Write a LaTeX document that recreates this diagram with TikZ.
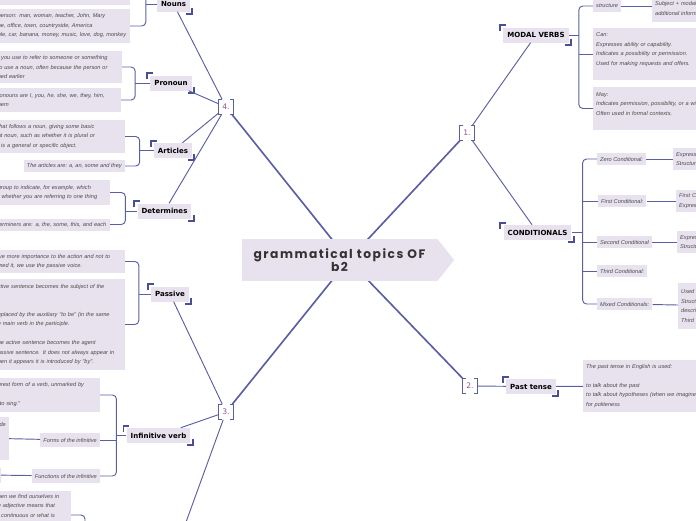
\documentclass[tikz,border=0pt]{standalone}
\usepackage{fontspec}
\setmainfont{Liberation Sans}
\newfontfamily\leafface{Liberation Sans}
\newfontfamily\topicface{DejaVu Sans}
\newfontfamily\hubface{Poppins}[LetterSpace=12]
\usepackage{tikz}
\usetikzlibrary{backgrounds}
\definecolor{GramLine}{HTML}{5B5EA3}
\definecolor{GramCorner}{HTML}{4A4E98}
\definecolor{GramFill}{HTML}{E8E2EE}
\definecolor{GramNum}{HTML}{9A4C9E}
\definecolor{GramInk}{HTML}{4A4A4A}
\newlength\pxl
\setlength\pxl{0.03cm}
\tikzset{
  hub/.style={fill=GramFill, text=black!80, align=center, inner sep=0pt,
    minimum width=195\pxl, minimum height=42\pxl,
    font=\hubface\bfseries\fontsize{10.5}{11}\selectfont},
  topic/.style={fill=GramFill, text=black, inner xsep=4\pxl, inner ysep=0pt,
    minimum height=15\pxl, font=\topicface\bfseries\fontsize{6}{7}\selectfont},
  leaf/.style={fill=GramFill, text=GramInk, align=left, inner xsep=3\pxl,
    inner ysep=3\pxl, font=\leafface\itshape\fontsize{4.8}{8.1}\selectfont},
  numtag/.style={text=GramNum, minimum width=14\pxl, minimum height=15\pxl,
    inner sep=0pt, font=\topicface\fontsize{6.5}{7}\selectfont},
  link/.style={draw=GramLine, line width=0.8pt},
  hublink/.style={draw=GramLine, line width=1.4pt},
  twig/.style={link, rounded corners=4\pxl},
  cornermark/.style={draw=GramCorner, line width=1.6pt},
  tagmark/.style={draw=GramLine, line width=1pt}
}

\begin{document}
\begin{tikzpicture}[x=0.03cm, y=-0.03cm]
  \useasboundingbox (0,0) rectangle (696,520);
  \clip (0,0) rectangle (696,520);

  \node[hub] (hub) at (339.5,260) {grammatical topics OF\\b2};
  \fill[GramFill] (hub.north east) -- ([xshift=17\pxl]hub.east) -- (hub.south east) -- cycle;

  \node[numtag] (n4) at (226,107) {4.};
  \node[numtag] (n1) at (467,133) {1.};
  \node[numtag] (n3) at (226,412) {3.};
  \node[numtag] (n2) at (470,386) {2.};
  \foreach \tg in {n1,n2,n3,n4} {
    \draw[tagmark] ([xshift=3\pxl]\tg.north west) -- (\tg.north west) -- (\tg.south west) -- ([xshift=3\pxl]\tg.south west);
    \draw[tagmark] ([xshift=-3\pxl]\tg.north east) -- (\tg.north east) -- (\tg.south east) -- ([xshift=-3\pxl]\tg.south east);
  }

  \node[topic] (nouns) at (173.5,4) {Nouns};
  \node[topic] (pronoun) at (171,83) {Pronoun};
  \node[topic] (articles) at (173,150.5) {Articles};
  \node[topic] (determines) at (164.5,211) {Determines};
  \node[topic] (passive) at (170,294) {Passive};
  \node[topic] (infinitive) at (158.5,435.5) {Infinitive verb};
  \node[topic] (modal) at (536,35) {MODAL VERBS};
  \node[topic] (conditionals) at (537.5,232.5) {CONDITIONALS};
  \node[topic] (pasttense) at (531,386.5) {Past tense};
  \foreach \tp in {nouns,pronoun,articles,determines,passive,infinitive,modal,conditionals,pasttense} {
    \draw[cornermark] ([shift={(-3,4)}]\tp.north west) -- ++(0,-6) -- ++(6,0);
    \draw[cornermark] ([shift={(2,-4)}]\tp.south east) -- ++(0,6) -- ++(-6,0);
  }

  % left leaves
  \node[leaf, anchor=east, text width=129\pxl, minimum height=34\pxl] (nounA) at (130,-12) {};
  \node[leaf, anchor=east, text width=129\pxl, minimum height=34\pxl] (nounB) at (130,26)
    {person: man, woman, teacher, John, Mary\\ne, office, town, countryside, America\\ble, car, banana, money, music, love, dog, monkey};
  \node[leaf, anchor=east, text width=121\pxl, minimum height=32\pxl] (pro1) at (122,67)
    {t you use to refer to someone or something\\to use a noun, often because the person or\\ned earlier};
  \node[leaf, anchor=east, text width=120\pxl, minimum height=24\pxl] (pro2) at (121,100)
    {ronouns are I, you, he, she, we, they, him,\\hem};
  \node[leaf, anchor=east, text width=124\pxl, minimum height=33\pxl] (art1) at (125,136.5)
    {that follows a noun, giving some basic\\at noun, such as whether it is plural or\\t is a general or specific object.};
  \node[leaf, anchor=east, minimum height=12\pxl] (art2) at (125,166)
    {The articles are: a, an, some and they};
  \node[leaf, anchor=east, text width=109\pxl, minimum height=25\pxl] (det1) at (110,192.5)
    {group to indicate, for example, which\\r whether you are referring to one thing};
  \node[leaf, anchor=east, text width=109\pxl, minimum height=12\pxl] (det2) at (110,224.5)
    {terminers are: a, the, some, this, and each};
  \node[leaf, anchor=east, text width=124\pxl, minimum height=23\pxl] (pas1) at (125,261.5)
    {ive more importance to the action and not to\\med it, we use the passive voice.};
  \node[leaf, anchor=east, text width=124\pxl, minimum height=91\pxl] (pas2) at (125,324.5)
    {ctive sentence becomes the subject of the\\~\\~\\eplaced by the auxiliary "to be" (in the same\\e main verb in the participle.\\~\\he active sentence becomes the agent\\assive sentence. It does not always appear in\\hen it appears it is introduced by "by".};
  \node[leaf, anchor=east, text width=99\pxl, minimum height=34\pxl] (inf1) at (100,395)
    {urest form of a verb, unmarked by\\~\\"to sing."};
  \node[leaf, anchor=east, minimum height=14\pxl] (inf2) at (100,440) {Forms of the infinitive};
  \node[leaf, anchor=east, align=right, text width=8\pxl, minimum height=43\pxl] (infA) at (9,438.5) {de\\~\\~\\~};
  \node[leaf, anchor=east, minimum height=14\pxl] (inf3) at (100,476) {Functions of the infinitive};
  \node[leaf, anchor=east, minimum width=20\pxl, minimum height=15\pxl] (infB) at (1,475) {};
  \node[leaf, anchor=east, text width=70\pxl, minimum height=46\pxl] (subD) at (71,515)
    {hen we find ourselves in\\e adjective means that\\t continuous or what is\\~\\~};
  \coordinate (lowtopic) at (165,580);
  \coordinate (lowspine) at (85,545);

  % right leaves
  \node[leaf, anchor=west, minimum height=12\pxl] (mod1) at (593,6) {structure};
  \node[leaf, anchor=west, text width=150\pxl, minimum height=32\pxl] (modS) at (652,6)
    {~\\Subject + modal verb + base verb +\\additional information};
  \node[leaf, anchor=west, text width=150\pxl, minimum height=52\pxl] (mod2) at (593,54)
    {Can:\\Expresses ability or capability.\\Indicates a possibility or permission.\\Used for making requests and offers.\\~};
  \node[leaf, anchor=west, text width=150\pxl, minimum height=43\pxl] (mod3) at (593,108.5)
    {May:\\Indicates permission, possibility, or a wish.\\Often used in formal contexts.\\~};
  \node[leaf, anchor=west, minimum height=12\pxl] (c1) at (597,159) {Zero Conditional:};
  \node[leaf, anchor=west, text width=100\pxl, minimum height=22\pxl] (c1x) at (673,159) {Expresses\\Structure};
  \node[leaf, anchor=west, minimum height=12\pxl] (c2) at (598,201) {First Conditional:};
  \node[leaf, anchor=west, text width=100\pxl, minimum height=22\pxl] (c2x) at (676,201) {First Conditional\\Expresses};
  \node[leaf, anchor=west, minimum height=12\pxl] (c3) at (597,242) {Second Conditional};
  \node[leaf, anchor=west, text width=100\pxl, minimum height=22\pxl] (c3x) at (677,242) {Expresses\\Structure};
  \node[leaf, anchor=west, minimum height=12\pxl] (c4) at (597,271) {Third Conditional:};
  \node[leaf, anchor=west, minimum height=12\pxl] (c5) at (597,304) {Mixed Conditionals:};
  \node[leaf, anchor=west, text width=100\pxl, minimum height=46\pxl] (c5x) at (678,306) {Used\\Structure\\describe\\Third};
  \node[leaf, anchor=west, text width=150\pxl, minimum height=52\pxl] (past1) at (583,386)
    {The past tense in English is used:\\~\\to talk about the past\\to talk about hypotheses (when we imagine\\for politeness};

  \coordinate (modalspine) at ([xshift=10\pxl]modal.east);
  \coordinate (condspine) at ([xshift=11\pxl]conditionals.east);
  \coordinate (infspine) at ([xshift=-10\pxl]infinitive.west);

  \begin{scope}[on background layer]
    \draw[hublink] (n4) -- ([xshift=9\pxl]hub.center);
    \draw[hublink] (n1) -- ([xshift=9\pxl]hub.center);
    \draw[hublink] (n3) -- ([xshift=9\pxl]hub.center);
    \draw[hublink] (n2) -- ([xshift=9\pxl]hub.center);
  \end{scope}

  \draw[link] (n4) -- (nouns);
  \draw[link] (n4) -- (pronoun);
  \draw[link] (n4) -- (articles);
  \draw[link] (n4) -- (determines);
  \draw[link] (n3) -- (passive);
  \draw[link] (n3) -- (infinitive);
  \draw[link] (n3) -- (lowtopic);
  \draw[link] (n1) -- (modal);
  \draw[link] (n1) -- (conditionals);
  \draw[link] (n2) -- (pasttense);

  \draw[twig] (nounA.east) -| ([xshift=-11\pxl]nouns.west) |- (nounB.east);
  \draw[link] ([xshift=-11\pxl]nouns.west) -- (nouns.west);
  \draw[twig] (pro1.east) -| ([xshift=-15\pxl]pronoun.west) |- (pro2.east);
  \draw[link] ([xshift=-15\pxl]pronoun.west) -- (pronoun.west);
  \draw[twig] (art1.east) -| ([xshift=-14\pxl]articles.west) |- (art2.east);
  \draw[link] ([xshift=-14\pxl]articles.west) -- (articles.west);
  \draw[twig] (det1.east) -| ([xshift=-12\pxl]determines.west) |- (det2.east);
  \draw[link] ([xshift=-12\pxl]determines.west) -- (determines.west);
  \draw[twig] (pas1.east) -| ([xshift=-12\pxl]passive.west) |- (pas2.east);
  \draw[link] ([xshift=-12\pxl]passive.west) -- (passive.west);
  \draw[twig] (inf1.east) -| (infspine) |- (inf3.east);
  \draw[link] (infspine) -- (infinitive.west);
  \draw[link] (infspine |- inf2.east) -- (inf2.east);
  \draw[link] (infA) -- (inf2);
  \draw[link] (infB) -- (inf3);
  \draw[twig] (subD.east) -| (lowspine);

  \draw[twig] (mod1.west) -| (modalspine) |- (mod3.west);
  \draw[link] (modal.east) -- (modalspine);
  \draw[link] (modalspine |- mod2.west) -- (mod2.west);
  \draw[link] (mod1) -- (modS);
  \draw[twig] (c1.west) -| (condspine) |- (c5.west);
  \draw[link] (conditionals.east) -- (condspine);
  \draw[link] (condspine |- c2.west) -- (c2.west);
  \draw[link] (condspine |- c3.west) -- (c3.west);
  \draw[link] (condspine |- c4.west) -- (c4.west);
  \draw[link] (c1) -- (c1x);
  \draw[link] (c2) -- (c2x);
  \draw[link] (c3) -- (c3x);
  \draw[link] (c5) -- (c5x);
  \draw[link] (pasttense) -- (past1);
\end{tikzpicture}
\end{document}
